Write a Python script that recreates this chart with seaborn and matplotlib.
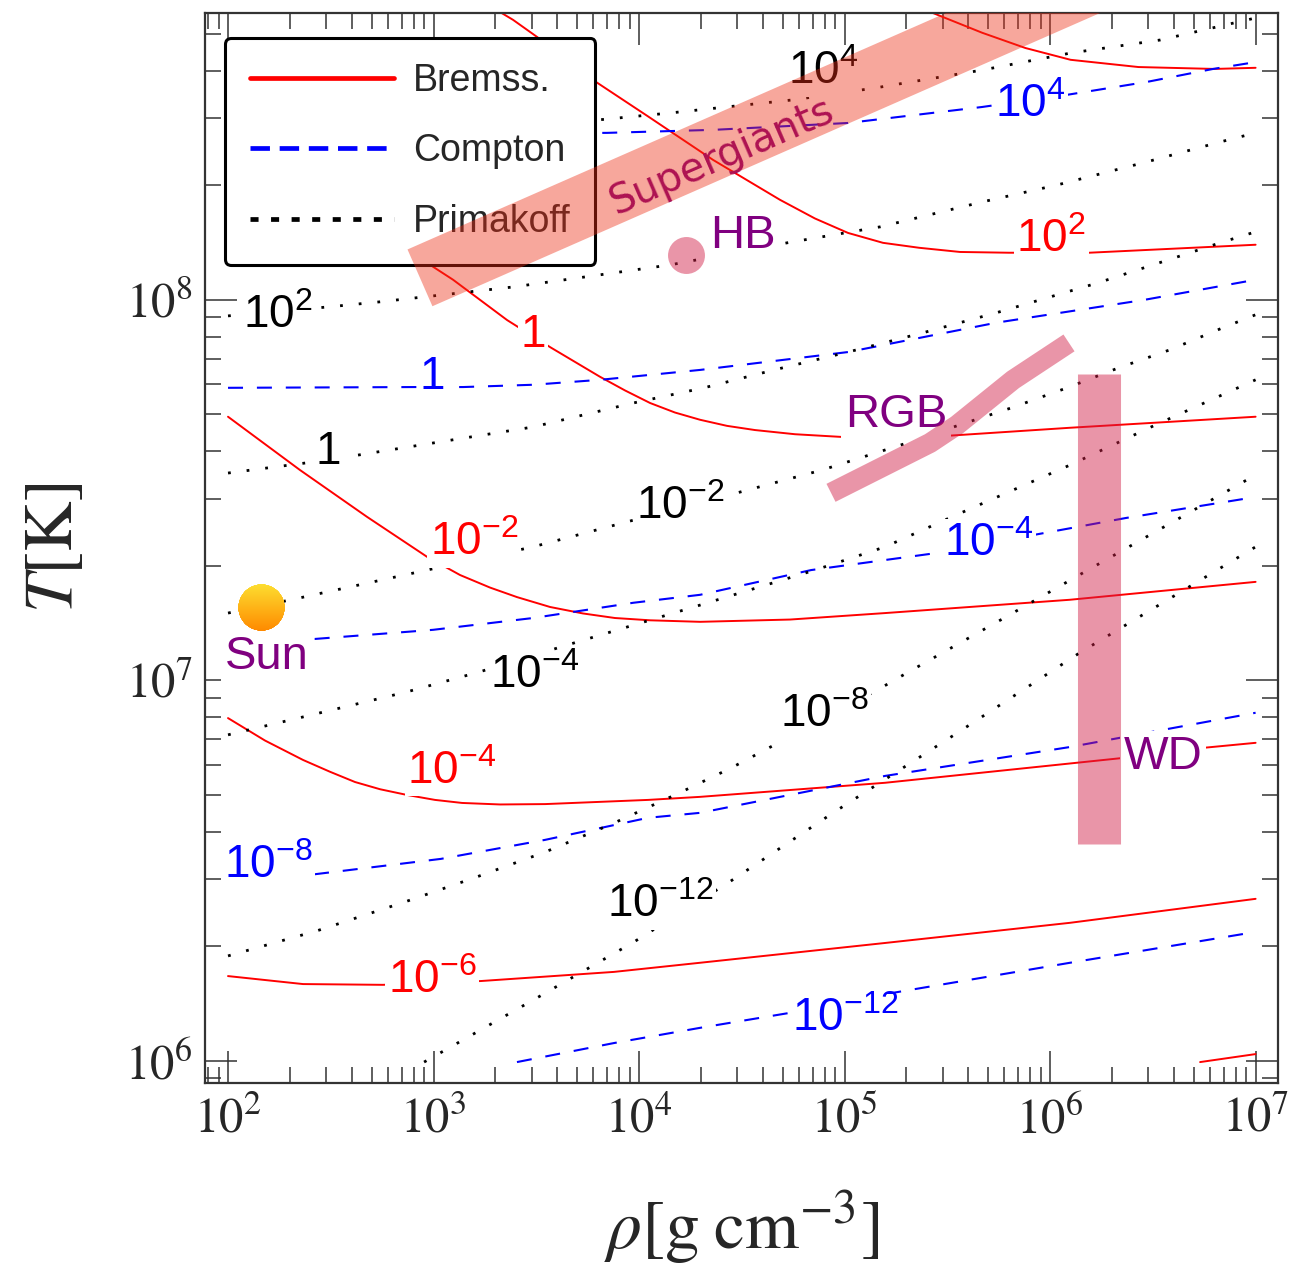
import numpy as np
import pandas as pd
import matplotlib
matplotlib.use("Agg")
import matplotlib.pyplot as plt
import seaborn as sns
from matplotlib.lines import Line2D
from matplotlib.patches import Polygon
from matplotlib.transforms import IdentityTransform
from matplotlib.offsetbox import OffsetImage, AnnotationBbox
from matplotlib.ticker import LogLocator, FuncFormatter, NullFormatter

# ---------------------------------------------------------------------------
# Axion emission contours in the (rho, T) plane, all values as log10.
# log10(rho / g cm^-3) and log10(T / K)
# ---------------------------------------------------------------------------

# Bremsstrahlung (solid red)
BREM_P4_LRHO = [5.36, 5.43, 5.67, 5.88, 6.10, 6.43, 6.80, 7.00]
BREM_P4_LT = [8.775, 8.754, 8.702, 8.662, 8.631, 8.612, 8.607, 8.610]
BREM_P2_LRHO = [3.226, 3.387, 3.504, 3.776, 4.039, 4.360, 4.686, 4.856, 5.017, 5.187,
                5.363, 5.562, 5.800, 6.190, 7.0]
BREM_P2_LT = [8.788, 8.736, 8.691, 8.578, 8.484, 8.368, 8.263, 8.214, 8.176, 8.150,
              8.137, 8.126, 8.124, 8.124, 8.145]
BREM_0_LRHO = [2.837, 2.998, 3.095, 3.358, 3.567, 3.810, 3.932, 4.054, 4.175, 4.297,
               4.428, 4.564, 4.759, 4.983, 5.270, 5.504, 6.097, 7.0]
BREM_0_LT = [8.150, 8.087, 8.053, 7.947, 7.876, 7.798, 7.762, 7.729, 7.704, 7.685,
             7.669, 7.658, 7.647, 7.640, 7.639, 7.643, 7.664, 7.693]
BREM_M2_LRHO = [2.0, 2.350, 2.676, 2.968, 3.129, 3.275, 3.406, 3.567, 3.727, 3.883,
                4.054, 4.297, 4.735, 5.197, 6.097, 7.0]
BREM_M2_LT = [7.693, 7.553, 7.430, 7.325, 7.277, 7.244, 7.219, 7.193, 7.176, 7.164,
              7.158, 7.154, 7.160, 7.177, 7.212, 7.259]
BREM_M4_LRHO = [2.0, 2.180, 2.365, 2.496, 2.618, 2.740, 2.871, 3.007, 3.139, 3.324,
                3.543, 4.044, 4.297, 5.197, 6.350, 6.749, 7.0]
BREM_M4_LT = [6.901, 6.842, 6.791, 6.760, 6.733, 6.714, 6.699, 6.686, 6.678, 6.674,
              6.675, 6.686, 6.694, 6.731, 6.796, 6.823, 6.836]
BREM_M6_LRHO = [2.0, 2.365, 2.754, 3.231, 3.878, 4.297, 5.197, 6.097, 7.0]
BREM_M6_LT = [6.223, 6.202, 6.200, 6.210, 6.234, 6.258, 6.310, 6.363, 6.426]
BREM_M8_LRHO = [6.730, 7.0]
BREM_M8_LT = [5.997, 6.018]

# Compton (dashed blue)
COMP_P4_LRHO = [2.837, 3.844, 4.365, 5.017, 5.669, 6.083, 6.472, 6.793, 7.0]
COMP_P4_LT = [8.436, 8.439, 8.447, 8.465, 8.507, 8.539, 8.573, 8.607, 8.625]
COMP_0_LRHO = [2.0, 2.920, 3.144, 3.484, 3.810, 4.297, 5.017, 5.737, 6.457, 7.0]
COMP_0_LT = [7.769, 7.771, 7.771, 7.777, 7.790, 7.816, 7.863, 7.940, 8.000, 8.053]
COMP_M4_LRHO = [2.0, 2.423, 2.998, 3.484, 3.971, 4.297, 4.837, 5.450, 5.917, 6.370, 7.0]
COMP_M4_LT = [7.104, 7.109, 7.133, 7.164, 7.204, 7.225, 7.290, 7.335, 7.382, 7.427, 7.482]
COMP_M8_LRHO = [2.0, 2.428, 3.036, 3.543, 4.044, 4.297, 5.197, 6.097, 7.0]
COMP_M8_LT = [6.463, 6.491, 6.531, 6.581, 6.639, 6.652, 6.749, 6.825, 6.915]
COMP_M12_LRHO = [3.406, 3.878, 4.297, 4.730, 5.236, 6.097, 7.0]
COMP_M12_LT = [5.997, 6.047, 6.087, 6.126, 6.179, 6.258, 6.339]

# Primakoff (dotted black)
PRIM_P4_LRHO = [2.0, 3.800, 4.146, 4.754, 5.148, 5.669, 6.102, 6.535, 7.0]
PRIM_P4_LT = [8.376, 8.473, 8.491, 8.526, 8.557, 8.604, 8.649, 8.683, 8.741]
PRIM_P2_LRHO = [2.0, 2.496, 2.740, 3.387, 3.732, 4.151, 4.720, 5.173, 5.674, 6.034, 6.472, 6.827, 7.0]
PRIM_P2_LT = [7.958, 7.982, 7.995, 8.034, 8.060, 8.092, 8.150, 8.192, 8.258, 8.302, 8.363, 8.415, 8.439]
PRIM_0_LRHO = [2.0, 2.385, 2.642, 2.998, 3.484, 3.971, 4.316, 4.657, 5.017, 5.377, 5.737, 6.234, 6.647, 6.827, 7.0]
PRIM_0_LT = [7.545, 7.572, 7.593, 7.624, 7.666, 7.729, 7.769, 7.816, 7.863, 7.913, 7.966, 8.045, 8.118, 8.150, 8.179]
PRIM_M2_LRHO = [2.0, 2.350, 2.968, 3.484, 3.922, 4.443, 4.891, 5.304, 5.557, 5.810, 6.083, 6.331, 6.584, 6.837, 7.0]
PRIM_M2_LT = [7.177, 7.217, 7.290, 7.351, 7.414, 7.488, 7.553, 7.624, 7.671, 7.716, 7.769, 7.821, 7.869, 7.926, 7.961]
PRIM_M4_LRHO = [2.0, 2.365, 2.871, 3.221, 3.650, 4.297, 4.856, 5.197, 5.523, 6.097, 6.511, 7.0]
PRIM_M4_LT = [6.857, 6.904, 6.970, 7.022, 7.093, 7.198, 7.290, 7.351, 7.430, 7.566, 7.671, 7.790]
PRIM_M8_LRHO = [2.0, 2.433, 2.861, 3.197, 3.543, 3.869, 4.195, 4.448, 5.144, 5.304, 5.776, 6.161, 7.0]
PRIM_M8_LT = [6.276, 6.342, 6.418, 6.481, 6.549, 6.623, 6.704, 6.770, 6.970, 7.020, 7.164, 7.283, 7.540]
PRIM_M12_LRHO = [2.954, 3.504, 3.976, 4.433, 4.944, 5.557, 6.151, 7.0]
PRIM_M12_LT = [5.997, 6.166, 6.313, 6.468, 6.652, 6.865, 7.075, 7.351]

# Inline contour labels: text, log10 rho, log10 T
BREM_LABELS = [(r"$10^{2}$", 6.005, 8.158), (r"$1$", 3.484, 7.908),
               (r"$10^{-2}$", 3.197, 7.361), (r"$10^{-4}$", 3.090, 6.760),
               (r"$10^{-6}$", 2.993, 6.210)]
COMP_LABELS = [(r"$10^{4}$", 5.903, 8.512), (r"$1$", 2.993, 7.798),
               (r"$10^{-4}$", 5.703, 7.359), (r"$10^{-8}$", 2.195, 6.512),
               (r"$10^{-12}$", 5.002, 6.110)]
PRIM_LABELS = [(r"$10^{4}$", 4.895, 8.599), (r"$10^{2}$", 2.243, 7.958),
               (r"$1$", 2.487, 7.601), (r"$10^{-2}$", 4.200, 7.456),
               (r"$10^{-4}$", 3.494, 7.012), (r"$10^{-8}$", 4.900, 6.909),
               (r"$10^{-12}$", 4.102, 6.410)]

# Stellar regions
SUPERGIANT_LRHO = [2.934, 6.8]
SUPERGIANT_LT = [8.058, 8.975]
RGB_LRHO = [4.934, 5.416, 5.547, 5.820, 6.092]
RGB_LT = [7.493, 7.624, 7.671, 7.790, 7.887]
WD_LRHO = [6.238, 6.238]
WD_LT = [6.570, 7.806]
HB_LRHO, HB_LT = 4.229, 8.118
SUN_LRHO, SUN_LT = 2.161, 7.1906

# region labels: text, log10 rho, log10 T, alignment
REGION_LABELS = [("Sun", 2.190, 7.062, "center"), ("HB", 4.345, 8.168, "left"),
                 ("RGB", 5.251, 7.698, "center"), ("WD", 6.550, 6.799, "center")]

PROCESSES = ["Bremss.", "Compton", "Primakoff"]
COLORS = {"Bremss.": "#ff0000", "Compton": "#0000ff", "Primakoff": "#000000"}

# ---------------------------------------------------------------------------
sns.set_style("ticks")
plt.rcParams["font.family"] = ["Liberation Sans", "DejaVu Sans"]
plt.rcParams["mathtext.fontset"] = "stix"
plt.rcParams["mathtext.rm"] = "Liberation Sans"
plt.rcParams["mathtext.it"] = "Liberation Sans:italic"
plt.rcParams["mathtext.bf"] = "Liberation Sans:bold"
plt.rcParams["mathtext.sf"] = "Liberation Sans"
plt.rcParams["lines.scale_dashes"] = False

fig = plt.figure(figsize=(12.91, 12.69), dpi=100)
ax = fig.add_axes([0.15879, 0.14657, 0.83114, 0.84318])

# axes scales and limits first (the supergiant band is built in screen space)
ax.set_xscale("log")
ax.set_yscale("log")
ax.set_xlim(10 ** 1.888, 10 ** 7.109)
ax.set_ylim(10 ** 5.942, 10 ** 8.754)


def curves_frame(curves):
    rows = []
    for i, (lr, lt) in enumerate(curves):
        rows.append(pd.DataFrame({"rho": np.power(10.0, lr),
                                  "T": np.power(10.0, lt),
                                  "curve": i}))
    return pd.concat(rows, ignore_index=True)


families = {
    "Bremss.": [(BREM_P4_LRHO, BREM_P4_LT), (BREM_P2_LRHO, BREM_P2_LT),
                (BREM_0_LRHO, BREM_0_LT), (BREM_M2_LRHO, BREM_M2_LT),
                (BREM_M4_LRHO, BREM_M4_LT), (BREM_M6_LRHO, BREM_M6_LT),
                (BREM_M8_LRHO, BREM_M8_LT)],
    "Compton": [(COMP_P4_LRHO, COMP_P4_LT), (COMP_0_LRHO, COMP_0_LT),
                (COMP_M4_LRHO, COMP_M4_LT), (COMP_M8_LRHO, COMP_M8_LT),
                (COMP_M12_LRHO, COMP_M12_LT)],
    "Primakoff": [(PRIM_P4_LRHO, PRIM_P4_LT), (PRIM_P2_LRHO, PRIM_P2_LT),
                  (PRIM_0_LRHO, PRIM_0_LT), (PRIM_M2_LRHO, PRIM_M2_LT),
                  (PRIM_M4_LRHO, PRIM_M4_LT), (PRIM_M8_LRHO, PRIM_M8_LT),
                  (PRIM_M12_LRHO, PRIM_M12_LT)],
}
line_width = {"Bremss.": 1.4, "Compton": 1.5, "Primakoff": 2.0}
line_dash = {"Bremss.": None, "Compton": (0, (10.8, 10.0)), "Primakoff": (0, (2.0, 11.5))}

for proc in PROCESSES:
    n_before = len(ax.lines)
    sns.lineplot(data=curves_frame(families[proc]), x="rho", y="T", units="curve",
                 estimator=None, sort=False, color=COLORS[proc],
                 linewidth=line_width[proc], legend=False, ax=ax, zorder=2)
    for ln in ax.lines[n_before:]:
        ln.set_solid_joinstyle("round")
        if line_dash[proc] is not None:
            ln.set_linestyle(line_dash[proc])
            ln.set_dash_capstyle("butt")

# inline contour labels with white backing (break the lines)
for proc, labels in zip(PROCESSES, [BREM_LABELS, COMP_LABELS, PRIM_LABELS]):
    for txt, lr, lt in labels:
        ax.text(10 ** lr, 10 ** lt, txt, color=COLORS[proc], fontsize=33,
                ha="center", va="center", math_fontfamily="custom", zorder=3,
                bbox=dict(boxstyle="square,pad=0.06", fc="white", ec="none"))

# region names
for txt, lr, lt, ha in REGION_LABELS:
    ax.text(10 ** lr, 10 ** lt, txt, color="#800080", fontsize=34, ha=ha,
            va="center", zorder=4,
            bbox=dict(boxstyle="square,pad=0.08", fc="white", ec="none"))
ax.text(10 ** 4.404, 10 ** 8.376, "Supergiants", color="#800080", fontsize=29,
        family="DejaVu Sans", rotation=23.5, rotation_mode="anchor",
        ha="center", va="center", zorder=4)

# legend
handles = [Line2D([], [], color=COLORS["Bremss."], lw=3.4),
           Line2D([], [], color=COLORS["Compton"], lw=3.4, linestyle=(0, (14, 7))),
           Line2D([], [], color=COLORS["Primakoff"], lw=3.4, linestyle=(0, (5.8, 9.0)))]
leg = ax.legend(handles, PROCESSES, loc="upper left", bbox_to_anchor=(0.0186, 0.9766),
                borderaxespad=0.0, fontsize=27, handlelength=3.85, handletextpad=0.5,
                labelspacing=0.92, borderpad=0.66, frameon=True, fancybox=True,
                framealpha=1.0, edgecolor="black", facecolor="white")
leg.get_frame().set_linewidth(2.2)
leg.get_frame().set_boxstyle("round,pad=0,rounding_size=0.15")
leg.set_zorder(5)

# supergiant band: a wide straight strip, built as a polygon in screen space
ends = ax.transData.transform(np.column_stack([np.power(10.0, SUPERGIANT_LRHO),
                                               np.power(10.0, SUPERGIANT_LT)]))
along = (ends[1] - ends[0]) / np.hypot(*(ends[1] - ends[0]))
half = np.array([-along[1], along[0]]) * 31.0  # half width in pixels
band = Polygon([ends[0] + half, ends[1] + half, ends[1] - half, ends[0] - half],
               closed=True, transform=IdentityTransform(),
               facecolor=(238 / 255, 45 / 255, 20 / 255), alpha=0.42,
               edgecolor="none", zorder=6)
ax.add_patch(band)
band.set_clip_path(ax.patch)

# other stellar regions on top
band_kw = dict(solid_capstyle="butt", solid_joinstyle="round", zorder=6)
pink = (210 / 255, 30 / 255, 70 / 255)
ax.plot(np.power(10.0, RGB_LRHO), np.power(10.0, RGB_LT), color=pink, alpha=0.47,
        lw=14.5, **band_kw)
ax.plot(np.power(10.0, WD_LRHO), np.power(10.0, WD_LT), color=pink, alpha=0.47,
        lw=31, **band_kw)
sns.scatterplot(x=[10 ** HB_LRHO], y=[10 ** HB_LT], s=26.6 ** 2, color=pink,
                alpha=0.47, linewidth=0, ax=ax, zorder=6, legend=False)

# the Sun: yellow-orange shaded disc
n = 240
yy, xx = np.mgrid[0:n, 0:n]
rad = np.hypot(xx - (n - 1) / 2, yy - (n - 1) / 2)
alpha = np.clip(n / 2 - rad, 0, 1)
t = (yy / (n - 1))[..., None]
top_c = np.array([253, 222, 48]) / 255
bot_c = np.array([255, 138, 0]) / 255
img = np.dstack([top_c * (1 - t) + bot_c * t, alpha])
sun = AnnotationBbox(OffsetImage(img, zoom=47 / (n * 100 / 72)),
                     (10 ** SUN_LRHO, 10 ** SUN_LT), xycoords="data",
                     frameon=False, pad=0, box_alignment=(0.5, 0.5))
sun.set_zorder(7)
ax.add_artist(sun)

# ticks, spines, labels
ax.set_xlim(10 ** 1.888, 10 ** 7.109)
ax.set_ylim(10 ** 5.942, 10 ** 8.754)
pow_fmt = FuncFormatter(lambda v, p: r"$10^{%d}$" % int(round(np.log10(v))))
for axis in (ax.xaxis, ax.yaxis):
    axis.set_major_locator(LogLocator(base=10, numticks=20))
    axis.set_minor_locator(LogLocator(base=10, subs=np.arange(2, 10), numticks=20))
    axis.set_major_formatter(pow_fmt)
    axis.set_minor_formatter(NullFormatter())
ax.tick_params(which="both", direction="in", top=True, right=True,
               color="#333333", width=1.1, labelsize=35)
ax.tick_params(which="major", length=23)
ax.tick_params(which="minor", length=11.5)
ax.tick_params(axis="x", pad=10)
ax.tick_params(axis="y", pad=9)
for sp in ax.spines.values():
    sp.set_linewidth(1.6)
    sp.set_color("#333333")

ax.set_xlabel(r"$\rho[\mathrm{g\;cm}^{-3}]$", fontsize=50, labelpad=33)
ax.set_ylabel(r"$T[\mathrm{K}]$", fontsize=50, labelpad=28)

fig.savefig("out.png", dpi=100)
